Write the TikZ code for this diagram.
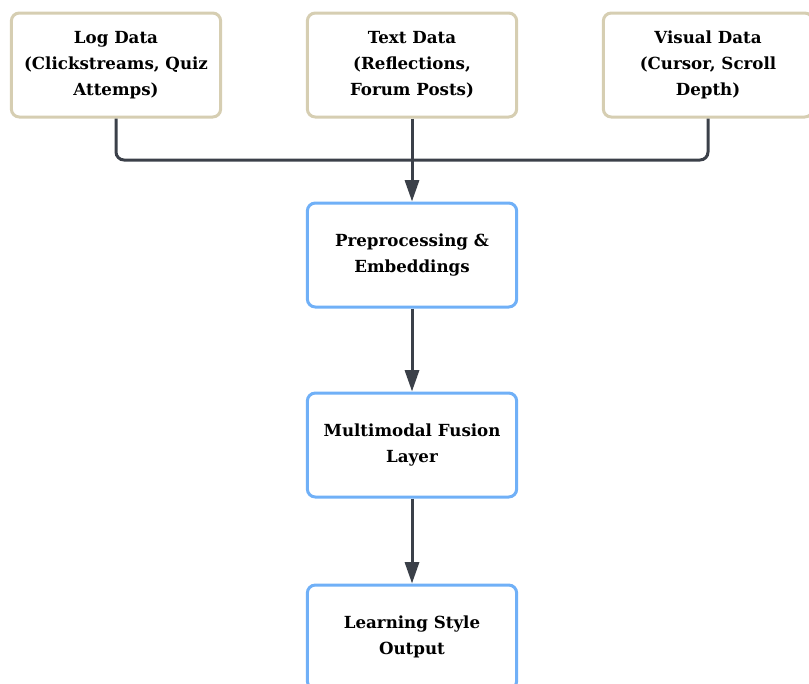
\documentclass[tikz,border=0pt]{standalone}
\usepackage{fontspec}
\setmainfont{DejaVu Serif}
\usetikzlibrary{arrows.meta}

\definecolor{srcedge}{HTML}{D6CEB2}
\definecolor{stepedge}{HTML}{70B0F7}
\definecolor{wire}{HTML}{3B4049}

\tikzset{
  source/.style={draw=srcedge,line width=2.25pt,rounded corners=6pt,fill=white,
    minimum width=157pt,minimum height=78pt,align=center,
    font=\bfseries\fontsize{12.5}{19.5}\selectfont},
  stage/.style={source,draw=stepedge},
  wire/.style={draw=wire,line width=2.25pt,rounded corners=6pt},
  tip/.style={wire,-{Triangle[length=16pt,width=10.5pt]}}
}

\begin{document}
\begin{tikzpicture}[x=0.75pt,y=-0.75pt]
  \useasboundingbox (0,0) rectangle (809,683);
  % inputs
  \node [source] (logdata) at (116,65) {Log Data\\(Clickstreams, Quiz\\Attemps)};
  \node [source] (textdata) at (412,65) {Text Data\\(Reflections,\\Forum Posts)};
  \node [source] (visdata) at (708,65) {Visual Data\\(Cursor, Scroll\\Depth)};
  % pipeline
  \node [stage] (prep) at (412,255) {Preprocessing \&\\Embeddings};
  \node [stage] (fusion) at (412,445) {Multimodal Fusion\\Layer};
  \node [stage] (output) at (412,637) {Learning Style\\Output};
  % merge
  \coordinate (hub) at (412,160);
  \draw [wire] (logdata.south) |- (hub);
  \draw [wire] (visdata.south) |- (hub);
  \draw [tip] (textdata.south) -- (prep.north);
  % flow
  \draw [tip] (prep.south) -- (fusion.north);
  \draw [tip] (fusion.south) -- (output.north);
\end{tikzpicture}
\end{document}
